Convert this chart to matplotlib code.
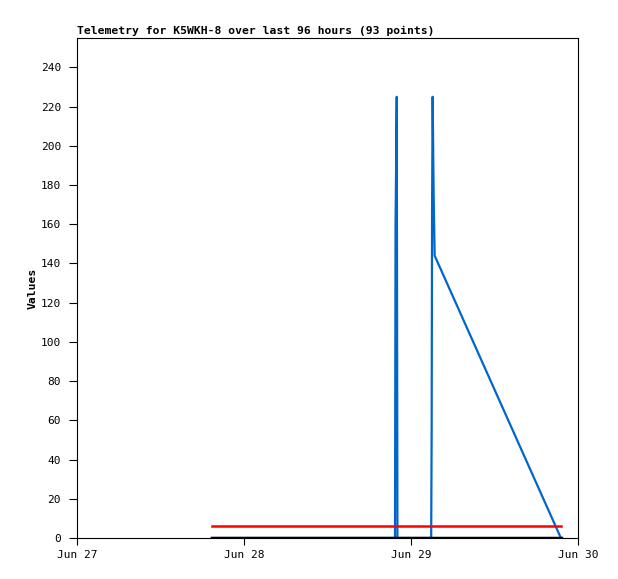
import numpy as np
import matplotlib.pyplot as plt
import matplotlib.dates as mdates
from datetime import datetime, timedelta

# hours after Jun 27 00:00
start = datetime(2024, 6, 27)
blue_h = [19.4, 30.0, 40.0, 45.70, 45.78, 45.95, 46.05, 50.90, 50.97, 51.03, 51.11, 51.25, 51.40, 69.54]
blue_v = [0, 0, 0, 0, 160, 225, 0, 0, 56, 168, 225, 176, 144, 0]
red_h = [19.4, 69.54]
red_v = [6, 6]
black_h = [19.4, 69.54]
black_v = [0, 0]

def to_dates(hours):
    return [start + timedelta(hours=h) for h in hours]

mono = 'DejaVu Sans Mono'
fig = plt.figure(figsize=(6.18, 5.79), dpi=100)
ax = fig.add_axes([77/618, 1 - 538/579, (578-77)/618, (538-38)/579])

ax.plot(to_dates(blue_h), blue_v, color='#0066cc', lw=1.6)
ax.plot(to_dates(red_h), red_v, color='#ff0000', lw=1.8)
ax.plot(to_dates(black_h), black_v, color='#000000', lw=2.5)

ax.set_xlim(start, start + timedelta(days=3))
ax.set_ylim(0, 255)
ax.set_yticks(np.arange(0, 241, 20))
ax.xaxis.set_major_locator(mdates.DayLocator())
ax.xaxis.set_major_formatter(mdates.DateFormatter('%b %d'))
ax.tick_params(direction='out', width=0.8, labelsize=8)
ax.tick_params(axis='y', length=6, pad=5.5)
ax.tick_params(axis='x', length=5, pad=4)
for lab in ax.get_xticklabels() + ax.get_yticklabels():
    lab.set_family(mono)
for s in ax.spines.values():
    s.set_linewidth(0.8)

ax.set_title('Telemetry for K5WKH-8 over last 96 hours (93 points)', loc='left',
             fontsize=8.2, fontweight='bold', family=mono, pad=3)
ax.set_ylabel('Values', fontsize=8.2, fontweight='bold', family=mono, labelpad=2)

fig.savefig('out.png', dpi=100)
